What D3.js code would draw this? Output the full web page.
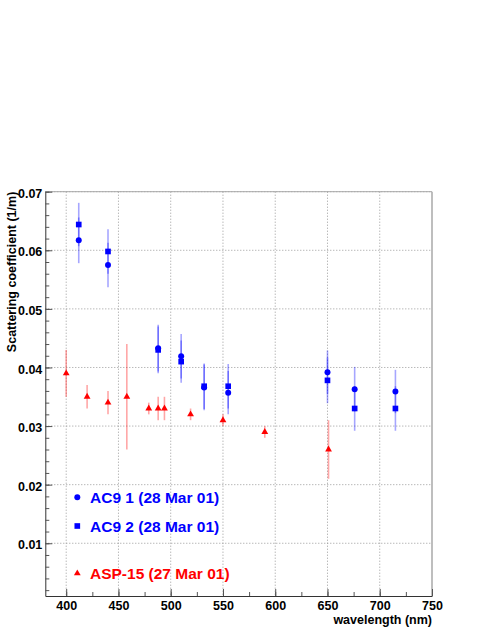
<!DOCTYPE html>
<html>
<head>
<meta charset="utf-8">
<script src="https://cdn.jsdelivr.net/npm/d3@7"></script>
<style>
	body { margin: 0; background: #fff; }
	svg { display: block; font-family: "Liberation Sans", Arial, Helvetica, sans-serif; font-weight: bold; }
</style>
</head>
<body>
<div id="chart"></div>
<script>
// AC9 instrument 1 (circles)
const ac9_1Wave = [412, 440, 488, 510, 532, 555, 650, 676, 715];
const ac9_1Val = [0.0617, 0.0575, 0.0433, 0.0419, 0.0366, 0.0357, 0.0392, 0.0363, 0.0359];
const ac9_1Err = [0.0039, 0.0038, 0.0040, 0.0038, 0.0039, 0.0037, 0.0037, 0.0038, 0.0037];

// AC9 instrument 2 (squares)
const ac9_2Wave = [412, 440, 488, 510, 532, 555, 650, 676, 715];
const ac9_2Val = [0.0644, 0.0598, 0.0430, 0.0410, 0.0368, 0.0368, 0.0378, 0.0330, 0.0330];
const ac9_2Err = [0.0037, 0.0038, 0.0040, 0.0036, 0.0039, 0.0038, 0.0039, 0.0038, 0.0038];

// ASP-15 (triangles)
const aspWave = [400, 420, 440, 458, 479, 488, 494, 519, 550, 590, 651];
const aspVal = [0.039, 0.035, 0.034, 0.035, 0.033, 0.033, 0.033, 0.032, 0.031, 0.029, 0.026];
const aspErr = [0.004, 0.002, 0.002, 0.009, 0.001, 0.002, 0.002, 0.001, 0.001, 0.001, 0.005];

const xTicks = [400, 450, 500, 550, 600, 650, 700, 750];
const yTicks = [0.01, 0.02, 0.03, 0.04, 0.05, 0.06, 0.07];

const legendLabels = ["AC9 1 (28 Mar 01)", "AC9 2 (28 Mar 01)", "ASP-15 (27 Mar 01)"];

// set the dimensions and margins of the graph
const W = 491, H = 635;
const margin = { top: 191.7, right: 59, bottom: 39, left: 45.3 };
const width = W - margin.left - margin.right;
const height = H - margin.top - margin.bottom;

const x = d3.scaleLinear().domain([380, 750]).range([0, width]);
const y = d3.scaleLinear().domain([0.001, 0.07]).range([height, 0]);

const svg = d3.select("#chart").append("svg")
	.attr("width", W)
	.attr("height", H);

const g = svg.append("g")
	.attr("transform", "translate(" + margin.left + "," + margin.top + ")");

// grid lines
g.append("g").selectAll("line")
	.data(xTicks.filter(d => d < 750))
	.enter().append("line")
	.attr("x1", d => x(d)).attr("x2", d => x(d))
	.attr("y1", 0).attr("y2", height)
	.attr("stroke", "#9a9a9a").attr("stroke-width", 1)
	.attr("stroke-dasharray", "1,2");
g.append("g").selectAll("line")
	.data(yTicks)
	.enter().append("line")
	.attr("x1", 0).attr("x2", width)
	.attr("y1", d => y(d)).attr("y2", d => y(d))
	.attr("stroke", "#9a9a9a").attr("stroke-width", 1)
	.attr("stroke-dasharray", "1,2");

// frame (top and right)
g.append("line").attr("x1", 0).attr("x2", width).attr("y1", 0).attr("y2", 0)
	.attr("stroke", "#a8a8a8").attr("stroke-width", 1);
g.append("line").attr("x1", width).attr("x2", width).attr("y1", 0).attr("y2", height)
	.attr("stroke", "#a8a8a8").attr("stroke-width", 1.5);

// minor ticks
const xMinor = d3.range(400, 750, 25);
const yMinor = d3.range(0.002, 0.0705, 0.002);

// x axis
const xAxis = g.append("g")
	.attr("transform", "translate(0," + height + ")")
	.call(d3.axisBottom(x).tickValues(xTicks).tickFormat(d3.format("d"))
		.tickSizeInner(-7).tickSizeOuter(0).tickPadding(5));
g.append("g")
	.attr("transform", "translate(0," + height + ")")
	.call(d3.axisBottom(x).tickValues(xMinor).tickFormat("").tickSizeInner(-4).tickSizeOuter(0))
	.call(s => s.select(".domain").remove());

// y axis
const yAxis = g.append("g")
	.call(d3.axisLeft(y).tickValues(yTicks).tickFormat(d3.format(".2f"))
		.tickSizeInner(-7).tickSizeOuter(0).tickPadding(3));
g.append("g")
	.call(d3.axisLeft(y).tickValues(yMinor).tickFormat("").tickSizeInner(-4).tickSizeOuter(0))
	.call(s => s.select(".domain").remove());

g.selectAll(".domain").attr("stroke", "#333");
g.selectAll(".tick line").attr("stroke", "#555");
xAxis.selectAll("text").attr("font-size", 12.5).attr("font-weight", "bold").attr("fill", "#000")
	.attr("font-family", "Liberation Sans, Arial, sans-serif");
yAxis.selectAll("text").attr("font-size", 12.5).attr("font-weight", "bold").attr("fill", "#000")
	.attr("font-family", "Liberation Sans, Arial, sans-serif")
	.attr("dy", "0.45em");

// axis titles
svg.append("text")
	.attr("x", 432).attr("y", 624)
	.attr("text-anchor", "end")
	.attr("font-size", 12.5)
	.text("wavelength (nm)");
svg.append("text")
	.attr("transform", "translate(15.5," + margin.top + ") rotate(-90)")
	.attr("text-anchor", "end")
	.attr("font-size", 12.5)
	.text("Scattering coefficient (1/m)");

// series
function series(wave, val, err, color, shape) {
	const data = wave.map((w, i) => ({ w: w, v: val[i], e: err[i] }));
	const s = g.append("g");
	s.selectAll("line")
		.data(data)
		.enter().append("line")
		.attr("x1", d => x(d.w)).attr("x2", d => x(d.w))
		.attr("y1", d => y(d.v + d.e)).attr("y2", d => y(d.v - d.e))
		.attr("stroke", color).attr("stroke-width", 1.6)
		.attr("stroke-opacity", 0.35);
	s.selectAll("path")
		.data(data)
		.enter().append("path")
		.attr("transform", d => "translate(" + x(d.w) + "," + y(d.v) + ")")
		.attr("d", d3.symbol().type(shape).size(symbolSize(shape)))
		.attr("fill", color);
}

function symbolSize(shape) {
	if (shape === d3.symbolTriangle) return 20;
	if (shape === d3.symbolSquare) return 32;
	return 28;
}

series(ac9_1Wave, ac9_1Val, ac9_1Err, "#0000ff", d3.symbolCircle);
series(ac9_2Wave, ac9_2Val, ac9_2Err, "#0000ff", d3.symbolSquare);
series(aspWave, aspVal, aspErr, "#ff0000", d3.symbolTriangle);

// legend
const legendY = [497.3, 526, 573.3];
const legendColors = ["#0000ff", "#0000ff", "#ff0000"];
const legendShapes = [d3.symbolCircle, d3.symbolSquare, d3.symbolTriangle];
const legend = svg.append("g");
legendLabels.forEach((label, i) => {
	legend.append("path")
		.attr("transform", "translate(77.3," + legendY[i] + ")")
		.attr("d", d3.symbol().type(legendShapes[i]).size(symbolSize(legendShapes[i])))
		.attr("fill", legendColors[i]);
	legend.append("text")
		.attr("x", 90).attr("y", legendY[i] + 5.5)
		.attr("font-size", 15.5)
		.attr("fill", legendColors[i])
		.text(label);
});
</script>
</body>
</html>
